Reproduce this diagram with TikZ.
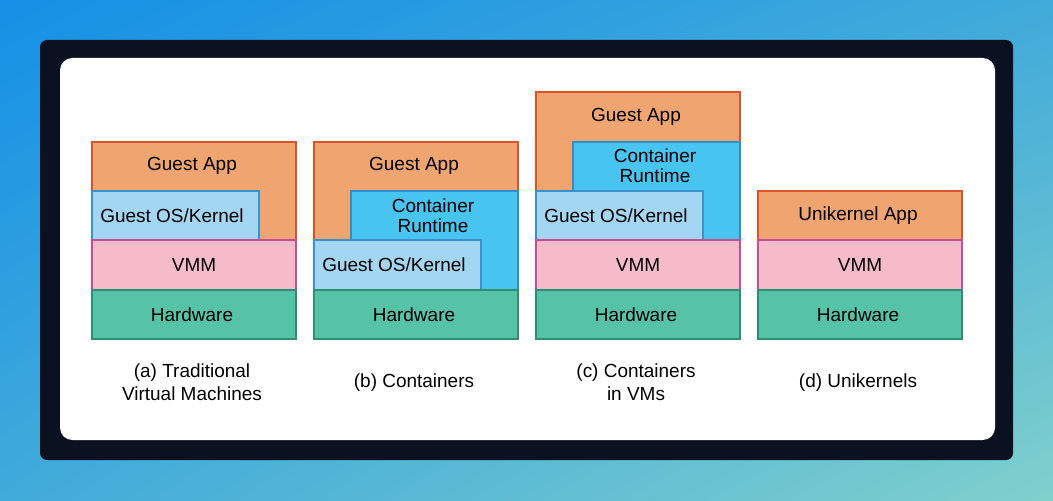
\documentclass[tikz,border=0pt]{standalone}
\usepackage{fontspec}
\setmainfont{Liberation Sans}
\usetikzlibrary{shadings}
\definecolor{appfill}{HTML}{F0A470}
\definecolor{appline}{HTML}{D9542C}
\definecolor{osfill}{HTML}{A2D6F2}
\definecolor{osline}{HTML}{3C92CC}
\definecolor{crfill}{HTML}{48C4F0}
\definecolor{crline}{HTML}{2C90CC}
\definecolor{vmmfill}{HTML}{F5BBC8}
\definecolor{vmmline}{HTML}{C44E9C}
\definecolor{hwfill}{HTML}{56C2A6}
\definecolor{hwline}{HTML}{2E8E76}
\definecolor{bgA}{HTML}{1590E6}
\definecolor{bgM}{HTML}{40AADA}
\definecolor{bgB}{HTML}{80D0CC}
\definecolor{frame}{HTML}{0B1120}
\tikzset{
  app/.style={fill=appfill, draw=appline, line width=0.6pt},
  os/.style={fill=osfill, draw=osline, line width=0.6pt},
  cr/.style={fill=crfill, draw=crline, line width=0.6pt},
  vmm/.style={fill=vmmfill, draw=vmmline, line width=0.6pt},
  hw/.style={fill=hwfill, draw=hwline, line width=0.6pt},
  lbl/.style={font=\fontsize{10.8}{11.2}\selectfont, align=center, inner sep=0pt},
  caption/.style={font=\fontsize{10.8}{13.4}\selectfont, align=center, inner sep=0pt}
}
\begin{document}
\begin{tikzpicture}[x=0.02cm, y=-0.02cm]
  \useasboundingbox (0,0) rectangle (1053,500);
  \shade[upper left=bgA, upper right=bgM, lower left=bgM, lower right=bgB] (0,0) rectangle (1053,500);
  \fill[frame, rounded corners=4pt] (40,40) rectangle (1013,460);
  \fill[white, rounded corners=7pt] (60,58) rectangle (995,440);
  % (a) traditional VMs
  \draw[app] (92,142) rectangle (296,240);
  \draw[os] (92,191) rectangle (259,240);
  \draw[vmm] (92,240) rectangle (296,290);
  \draw[hw] (92,290) rectangle (296,339);
  \node[lbl] (appA) at (192,166) {Guest App};
  \node[lbl] (osA) at (172,216) {Guest OS/Kernel};
  \node[lbl] (vmmA) at (194,265) {VMM};
  \node[lbl] (hwA) at (192,315) {Hardware};
  \node[caption] (capA) at (192,382) {(a) Traditional\\Virtual Machines};
  % (b) containers
  \draw[app] (314,142) rectangle (518,240);
  \draw[cr] (351,191) rectangle (518,290);
  \draw[os] (314,240) rectangle (481,290);
  \draw[hw] (314,290) rectangle (518,339);
  \node[lbl] (appB) at (414,166) {Guest App};
  \node[lbl] (crB) at (433,216) {Container\\Runtime};
  \node[lbl] (osB) at (394,265) {Guest OS/Kernel};
  \node[lbl] (hwB) at (414,315) {Hardware};
  \node[caption] (capB) at (414,383) {(b) Containers};
  % (c) containers in VMs
  \draw[app] (536,92) rectangle (740,191);
  \draw[cr] (573,142) rectangle (740,240);
  \draw[os] (536,191) rectangle (703,240);
  \draw[vmm] (536,240) rectangle (740,290);
  \draw[hw] (536,290) rectangle (740,339);
  \node[lbl] (appC) at (636,117) {Guest App};
  \node[lbl] (crC) at (655,166) {Container\\Runtime};
  \node[lbl] (osC) at (616,216) {Guest OS/Kernel};
  \node[lbl] (vmmC) at (638,265) {VMM};
  \node[lbl] (hwC) at (636,315) {Hardware};
  \node[caption] (capC) at (636,382) {(c) Containers\\in VMs};
  % (d) unikernels
  \draw[app] (758,191) rectangle (962,240);
  \draw[vmm] (758,240) rectangle (962,290);
  \draw[hw] (758,290) rectangle (962,339);
  \node[lbl] (appD) at (858,216) {Unikernel App};
  \node[lbl] (vmmD) at (860,265) {VMM};
  \node[lbl] (hwD) at (858,315) {Hardware};
  \node[caption] (capD) at (858,383) {(d) Unikernels};
\end{tikzpicture}
\end{document}
